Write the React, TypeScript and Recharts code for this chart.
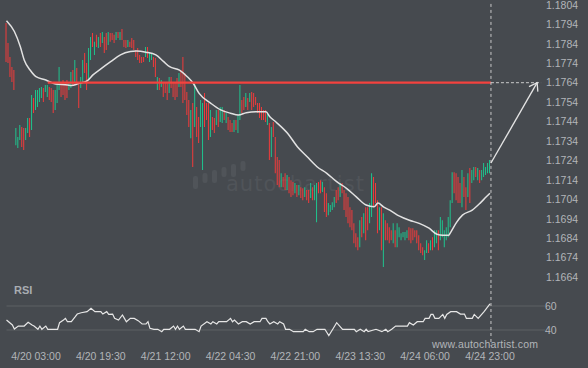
import { ComposedChart, LineChart, Bar, Line, XAxis, YAxis, ReferenceLine, Cell } from 'recharts';

// half-hour candles, index 0 .. 246
const highs = [
  1.17947, 1.17844, 1.17772, 1.17721, 1.17705, 1.17407, 1.17361, 1.17422, 1.17412, 1.17407,
  1.17407, 1.17458, 1.17458, 1.17577, 1.17561, 1.17603, 1.17603, 1.17613, 1.17618, 1.17613,
  1.17628, 1.17628, 1.17618, 1.17613, 1.17603, 1.17603, 1.17644, 1.17721, 1.17644, 1.17654,
  1.17644, 1.17654, 1.17644, 1.17695, 1.17705, 1.17757, 1.17716, 1.17644, 1.17669, 1.17757,
  1.17793, 1.17741, 1.17819, 1.17875, 1.17896, 1.1785, 1.17886, 1.17875, 1.17896, 1.17901,
  1.17875, 1.17896, 1.17901, 1.17896, 1.17896, 1.17886, 1.17901, 1.17901, 1.17901, 1.17916,
  1.1786, 1.1786, 1.1786, 1.1785, 1.1787, 1.1786, 1.17808, 1.17819, 1.17783, 1.17772,
  1.17772, 1.17824, 1.17824, 1.17798, 1.17793, 1.17772, 1.17767, 1.17669, 1.17664, 1.17654,
  1.17644, 1.17639, 1.17639, 1.17669, 1.17669, 1.17639, 1.17644, 1.17664, 1.1769, 1.17705,
  1.17772, 1.1769, 1.17592, 1.17551, 1.175, 1.17536, 1.17639, 1.17515, 1.17464, 1.17551,
  1.17536, 1.17587, 1.17536, 1.17536, 1.175, 1.17464, 1.17458, 1.175, 1.175, 1.17515,
  1.17515, 1.175, 1.17484, 1.17464, 1.17448, 1.17433, 1.17448, 1.17448, 1.17474, 1.17628,
  1.17551, 1.17566, 1.17587, 1.17561, 1.17587, 1.17592, 1.17587, 1.17566, 1.17536, 1.17536,
  1.17515, 1.175, 1.175, 1.17484, 1.17433, 1.17412, 1.17438, 1.17361, 1.17258, 1.17242,
  1.17175, 1.17155, 1.17175, 1.17165, 1.17155, 1.17139, 1.17129, 1.17124, 1.17114, 1.17114,
  1.17103, 1.17098, 1.17103, 1.17088, 1.17088, 1.17124, 1.17103, 1.17114, 1.17124, 1.17129,
  1.17139, 1.17129, 1.17103, 1.17072, 1.17021, 1.17011, 1.17026, 1.17052, 1.17088, 1.17103,
  1.17124, 1.17124, 1.17088, 1.17072, 1.17052, 1.17, 1.16985, 1.16918, 1.16866, 1.16846,
  1.16933, 1.16949, 1.16969, 1.17, 1.17, 1.17021, 1.17175, 1.17155, 1.17124, 1.17036,
  1.17, 1.17, 1.16969, 1.16933, 1.16918, 1.16897, 1.16882, 1.16918, 1.16882, 1.16918,
  1.16897, 1.16866, 1.16872, 1.16872, 1.16882, 1.16897, 1.16892, 1.16892, 1.16882, 1.16882,
  1.16856, 1.16815, 1.16794, 1.16779, 1.1683, 1.16815, 1.1683, 1.16846, 1.16882, 1.16882,
  1.16882, 1.16949, 1.16933, 1.16882, 1.16897, 1.16949, 1.17036, 1.1718, 1.1718, 1.17175,
  1.17155, 1.17124, 1.17191, 1.17155, 1.17103, 1.17175, 1.17201, 1.17191, 1.17206, 1.17206,
  1.17201, 1.17191, 1.17191, 1.17227, 1.17206, 1.17227, 1.17242,
];

const lows = [
  1.17747, 1.17741, 1.17669, 1.17644, 1.17603, 1.17319, 1.17304, 1.17345, 1.17309, 1.17294,
  1.17345, 1.17381, 1.17361, 1.17397, 1.17484, 1.175, 1.17515, 1.17541, 1.17561, 1.17541,
  1.17592, 1.17566, 1.17551, 1.17541, 1.17484, 1.175, 1.17536, 1.17603, 1.17566, 1.17577,
  1.17551, 1.17561, 1.17603, 1.17613, 1.17628, 1.17644, 1.17639, 1.1751, 1.17613, 1.17644,
  1.1769, 1.17603, 1.17654, 1.17757, 1.17824, 1.17783, 1.17824, 1.17819, 1.17824, 1.17844,
  1.17793, 1.17808, 1.17834, 1.1785, 1.1786, 1.17844, 1.1786, 1.1787, 1.1786, 1.1786,
  1.17824, 1.17819, 1.17824, 1.17824, 1.17819, 1.17808, 1.17772, 1.17757, 1.17741, 1.17741,
  1.17747, 1.17772, 1.17767, 1.17747, 1.17757, 1.17721, 1.17669, 1.17603, 1.17603, 1.17618,
  1.17566, 1.17587, 1.17551, 1.17587, 1.17613, 1.17566, 1.17551, 1.17566, 1.17618, 1.17618,
  1.17536, 1.17551, 1.17474, 1.17412, 1.17355, 1.17206, 1.17412, 1.17361, 1.1733, 1.17412,
  1.17191, 1.17412, 1.17448, 1.17345, 1.17361, 1.17397, 1.17381, 1.17422, 1.17412, 1.17438,
  1.17433, 1.17448, 1.17433, 1.17397, 1.17386, 1.17386, 1.17386, 1.17397, 1.17381, 1.17448,
  1.17484, 1.175, 1.17515, 1.175, 1.17541, 1.175, 1.17515, 1.17525, 1.17484, 1.17458,
  1.17448, 1.17448, 1.17438, 1.17422, 1.17242, 1.17258, 1.17361, 1.17175, 1.17114, 1.17103,
  1.17103, 1.17103, 1.17088, 1.17088, 1.17072, 1.17052, 1.17062, 1.17072, 1.17052, 1.17062,
  1.17047, 1.17036, 1.17052, 1.17036, 1.17021, 1.17047, 1.17036, 1.17036, 1.16923, 1.17072,
  1.17072, 1.17078, 1.16975, 1.16949, 1.16959, 1.16975, 1.16985, 1.17, 1.17021, 1.17036,
  1.17052, 1.17072, 1.16985, 1.16949, 1.16918, 1.16897, 1.16882, 1.16815, 1.16794, 1.16779,
  1.16794, 1.16846, 1.16866, 1.1683, 1.16882, 1.16918, 1.16949, 1.17, 1.17021, 1.16866,
  1.16882, 1.16779, 1.16692, 1.1683, 1.1683, 1.16815, 1.1683, 1.16815, 1.16794, 1.16794,
  1.16846, 1.1683, 1.16846, 1.1683, 1.16841, 1.1683, 1.16815, 1.1683, 1.16846, 1.16815,
  1.16779, 1.16764, 1.16753, 1.16728, 1.16764, 1.16764, 1.16779, 1.16779, 1.16794, 1.16815,
  1.16779, 1.1683, 1.16846, 1.16794, 1.1683, 1.16846, 1.16897, 1.17021, 1.17072, 1.17036,
  1.17021, 1.17021, 1.17, 1.17052, 1.16985, 1.17052, 1.17021, 1.17124, 1.17139, 1.17155,
  1.17139, 1.17124, 1.17139, 1.17155, 1.17165, 1.17175, 1.17175,
];

// u = up (green), d = down (red), five candles per group
const dirs = (
  'ddddd' + 'uuudd' + 'uudud' + 'uuuud' + 'uuddd' + 'uuudd' + 'dduud' + 'udduu' + 'dduud' + 'ududu' +
  'ddudd' + 'dudud' + 'ddudd' + 'ddddd' + 'duduu' + 'ddudu' + 'dddud' + 'dddud' + 'ddddu' + 'duddu' +
  'udddu' + 'ddudu' + 'ududd' + 'duduu' + 'ddudu' + 'ddddd' + 'dddud' + 'udddd' + 'uddud' + 'ddudu' +
  'ddudd' + 'uduud' + 'duddu' + 'uuudd' + 'udddd' + 'ddddd' + 'ududd' + 'uuddd' + 'ududd' + 'ddudu' +
  'uuuuu' + 'ddddd' + 'ddduu' + 'duduu' + 'duuuu' + 'uuudd' + 'ddudd' + 'uduud' + 'uduuu' + 'uu'
).split('');

// moving average, read at these candle indices
const maIdx = [0, 4, 7, 9, 12, 15, 20, 25, 31, 33, 37, 41, 44, 48, 53, 58, 63, 66, 71, 76, 80, 83, 88, 92, 95, 98,
  104, 109, 114, 118, 122, 127, 132, 134, 137, 143, 148, 153, 158, 163, 168, 173, 178, 183, 187, 189, 192, 195,
  200, 205, 210, 215, 219, 222, 225, 226, 229, 232, 237, 241, 244, 246];
const maVals = [1.17959, 1.17903, 1.17826, 1.17757, 1.17705, 1.17671, 1.17654, 1.17633, 1.17628, 1.17625, 1.17637,
  1.17649, 1.1768, 1.17711, 1.17748, 1.17783, 1.178, 1.17803, 1.17797, 1.17783, 1.17748, 1.17722, 1.17705, 1.17671,
  1.17637, 1.17585, 1.17534, 1.175, 1.17483, 1.17474, 1.17486, 1.17491, 1.17491, 1.17465, 1.17439, 1.1738, 1.17311,
  1.17259, 1.17208, 1.17174, 1.17131, 1.17097, 1.17053, 1.17011, 1.17002, 1.17021, 1.17, 1.16985, 1.16954, 1.16933,
  1.16917, 1.16892, 1.16861, 1.16856, 1.16856, 1.16871, 1.16922, 1.16959, 1.16985, 1.17021, 1.17052, 1.17072];

const rsiIdx = [0, 3, 4, 6, 9, 11, 13, 14, 16, 17, 18, 20, 21, 26, 27, 29, 30, 31, 33, 35, 36, 38, 41, 43, 45, 48,
  49, 51, 52, 54, 55, 57, 59, 60, 61, 63, 65, 67, 69, 71, 72, 73, 75, 77, 79, 80, 83, 85, 86, 87, 88, 90, 91, 96,
  98, 99, 102, 104, 105, 107, 108, 112, 114, 115, 116, 118, 120, 122, 124, 126, 129, 130, 132, 133, 134, 136, 138,
  139, 141, 142, 144, 146, 148, 151, 152, 154, 156, 158, 162, 164, 166, 168, 171, 177, 178, 180, 182, 183, 184,
  188, 191, 193, 194, 196, 198, 204, 205, 207, 209, 212, 213, 215, 216, 217, 218, 220, 222, 223, 224, 226, 229,
  231, 233, 234, 237, 238, 240, 243, 246];
const rsiVals = [48.3, 44.2, 40.8, 43.3, 43.3, 46.4, 44.2, 43.3, 40.6, 43.3, 40.6, 43.3, 40.6, 40.6, 46.1, 48.3,
  49.7, 46.9, 46.9, 51.1, 53.3, 54.4, 55.3, 58, 55.3, 55.3, 53.3, 55.3, 53, 53.3, 49.7, 48.3, 52.5, 49.7, 46.9,
  49.7, 49.7, 47.8, 45, 45, 46.9, 41.4, 40.6, 40.6, 38.6, 40.6, 40.6, 43.3, 40.6, 43.3, 40.6, 43.3, 40.6, 40.6,
  38.6, 43.3, 46.9, 45, 46.9, 45, 46.9, 46.9, 49.7, 46.9, 48.3, 45, 46.9, 46.9, 45, 46.9, 46.9, 49.7, 49.7, 46.9,
  45, 46.9, 45, 46.9, 45, 40.6, 40.6, 38.6, 38.6, 38.6, 40.6, 38.6, 38.6, 40.6, 40.6, 35.3, 40.6, 46.1, 40.6,
  40.6, 38.6, 40.6, 38.6, 40.6, 38.6, 40.6, 38.6, 40.6, 38.6, 40.6, 43.3, 43.3, 46.1, 44.2, 46.9, 46.9, 49.7,
  49.7, 53, 53, 49.7, 49.7, 53, 49.7, 53, 55.3, 55.3, 53.3, 53.3, 49.7, 49.7, 53, 49.7, 55.3, 61.7];

const priceTicks = [1.1804, 1.1794, 1.1784, 1.1774, 1.1764, 1.1754, 1.1744, 1.1734, 1.1724, 1.1714, 1.1704,
  1.1694, 1.1684, 1.1674, 1.1664];
const rsiTicks = [40, 60];
const timeIdx = [15, 48, 81, 114, 147, 180, 213, 246];
const timeLabels = ['4/20 03:00', '4/20 19:30', '4/21 12:00', '4/22 04:30', '4/22 21:00', '4/23 13:30',
  '4/24 06:00', '4/24 23:00'];

const level = 1.1764;
const levelFrom = 21;
const nowIdx = 246.5;
const lastClose = 1.17227;
const targetIdx = 270;

const bg = '#464a4f';
const txt = '#b2b5b9';
const font = '"Liberation Sans", Arial, sans-serif';

const rows = highs.map((h, i) => ({ i, range: [lows[i], h], up: dirs[i] === 'u', ma: null as number | null }));
maIdx.forEach((k, j) => {
  rows[k].ma = maVals[j];
});
const rsiRows = rsiIdx.map((i, j) => ({ i, rsi: rsiVals[j] }));

function Arrow(props: any) {
  const { x1, y1, x2, y2 } = props;
  const a = Math.atan2(y1 - y2, x1 - x2);
  const L = 9;
  const t = 0.6;
  const ax = x2 + L * Math.cos(a + t);
  const ay = y2 + L * Math.sin(a + t);
  const bx = x2 + L * Math.cos(a - t);
  const by = y2 + L * Math.sin(a - t);
  return (
    <g stroke="#e4e4e4" strokeWidth={1.3} fill="none">
      <line x1={x1} y1={y1} x2={x2} y2={y2} />
      <polyline points={`${ax},${ay} ${x2},${y2} ${bx},${by}`} />
    </g>
  );
}

export default function App() {
  const tick = { fill: txt, fontSize: 10.5, fontFamily: font };
  return (
    <div style={{ position: 'fixed', left: 0, top: 0, width: 588, height: 368, background: bg, overflow: 'hidden' }}>
      {/* watermark */}
      <svg width={60} height={36} style={{ position: 'absolute', left: 192, top: 156 }}>
        {[0, 1, 2, 3, 4, 5].map((k) => (
          <rect key={k} x={1 + k * 9.5} y={20 - k * 3} width={5} height={13 - (k % 2) * 3} rx={2} fill="#505459" />
        ))}
      </svg>
      <div style={{ position: 'absolute', left: 226, top: 172, color: '#505459', fontSize: 21, fontFamily: '"DejaVu Sans", sans-serif', letterSpacing: 1 }}>
        autochartist
      </div>

      <div style={{ position: 'absolute', left: 0, top: 0 }}>
        <ComposedChart width={588} height={285} data={rows} margin={{ top: 1, right: 0, bottom: 0, left: 6.5 }}>
          <XAxis dataKey="i" type="number" domain={[0, 274]} hide />
          <YAxis
            orientation="right"
            width={43}
            domain={[1.166, 1.1806]}
            ticks={priceTicks}
            interval={0}
            tickFormatter={(v: number) => v.toFixed(4)}
            axisLine={false}
            tickLine={false}
            tickSize={0}
            tickMargin={1}
            tick={tick}
          />
          <Bar dataKey="range" barSize={1} isAnimationActive={false}>
            {rows.map((r) => (
              <Cell key={r.i} fill={r.up ? '#1fc48e' : '#f23b3b'} />
            ))}
          </Bar>
          <Line dataKey="ma" type="monotone" connectNulls dot={false} stroke="#e2e2e2" strokeWidth={1.5} isAnimationActive={false} />
          <ReferenceLine segment={[{ x: levelFrom, y: level }, { x: nowIdx, y: level }]} stroke="#f4423e" strokeWidth={2.2} />
          <ReferenceLine segment={[{ x: nowIdx, y: level }, { x: targetIdx + 2, y: level }]} stroke="#c9c9c9" strokeDasharray="3 2" />
          <ReferenceLine segment={[{ x: nowIdx, y: 1.18045 }, { x: nowIdx, y: 1.166 }]} stroke="#c9c9c9" strokeDasharray="3 3" />
          <ReferenceLine segment={[{ x: nowIdx, y: lastClose }, { x: targetIdx, y: level }]} shape={Arrow} />
        </ComposedChart>
      </div>

      <div style={{ position: 'absolute', left: 14, top: 284, color: '#a9adb2', fontSize: 11, fontWeight: 'bold', fontFamily: font }}>
        RSI
      </div>

      <div style={{ position: 'absolute', left: 0, top: 280 }}>
        <LineChart width={588} height={88} data={rsiRows} margin={{ top: 14, right: 0, bottom: 0, left: 6.5 }}>
          <XAxis
            dataKey="i"
            type="number"
            domain={[0, 274]}
            ticks={timeIdx}
            interval={0}
            tickFormatter={(v: number) => timeLabels[timeIdx.indexOf(v)]}
            axisLine={false}
            tickLine={false}
            tickSize={0}
            tickMargin={11}
            height={26}
            tick={tick}
          />
          <YAxis
            orientation="right"
            width={43}
            domain={[30, 70]}
            ticks={rsiTicks}
            interval={0}
            axisLine={false}
            tickLine={false}
            tickSize={0}
            tickMargin={0}
            tick={tick}
          />
          <ReferenceLine y={60} stroke="#5c6065" />
          <ReferenceLine y={40} stroke="#5c6065" />
          <ReferenceLine segment={[{ x: nowIdx, y: 77.5 }, { x: nowIdx, y: 27 }]} ifOverflow="visible" stroke="#c9c9c9" strokeDasharray="3 3" />
          <Line dataKey="rsi" type="linear" dot={false} stroke="#e6e6e6" strokeWidth={1.2} isAnimationActive={false} />
        </LineChart>
      </div>

      <div style={{ position: 'absolute', left: 432, top: 338, color: txt, fontSize: 10.5, fontFamily: font, letterSpacing: 0.2 }}>
        www.autochartist.com
      </div>
    </div>
  );
}
